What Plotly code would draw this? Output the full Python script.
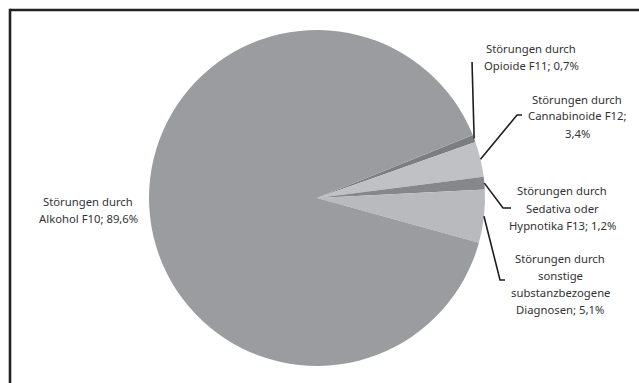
import math
import plotly.graph_objects as go

# Anteile der Diagnosegruppen (in %)
categories = [
    "Störungen durch Opioide F11",
    "Störungen durch Cannabinoide F12",
    "Störungen durch Sedativa oder Hypnotika F13",
    "Störungen durch sonstige substanzbezogene Diagnosen",
    "Störungen durch Alkohol F10",
]
values = [0.7, 3.4, 1.2, 5.1, 89.6]
value_labels = ["0,7%", "3,4%", "1,2%", "5,1%", "89,6%"]
label_lines = [
    ["Störungen durch", "Opioide F11; {}"],
    ["Störungen durch", "Cannabinoide F12;", "{}"],
    ["Störungen durch", "Sedativa oder", "Hypnotika F13; {}"],
    ["Störungen durch", "sonstige", "substanzbezogene", "Diagnosen; {}"],
    ["Störungen durch", "Alkohol F10; {}"],
]
colors = ["#7c7d81", "#c0c1c4", "#86878b", "#b9babd", "#9b9c9f"]

W, H = 639, 383
CX, CY, R = 317, 198, 168
ROTATION = 68
FONT = "Noto Sans, Open Sans, sans-serif"
FONT_SIZE = 11.3
LINE_GAP = 17
TEXT_COLOR = "#333333"


def paper(x, y):
    return x / W, 1 - y / H


# label centres (px) and leader elbows/ends per slice
label_pos = [(531, 57), (577, 116), (562, 208), (560, 284), (88, 210)]
leaders = [
    [(472, 62)],
    [(517, 115), (522, 115)],
    [(503, 208), (511, 208)],
    [(500, 280), (505, 280)],
    None,
]

fig = go.Figure(go.Pie(
    labels=categories,
    values=values,
    sort=False,
    direction="clockwise",
    rotation=ROTATION,
    marker=dict(colors=colors, line=dict(width=0)),
    textinfo="none",
    hoverinfo="label+percent",
    showlegend=False,
    domain=dict(x=[(CX - R) / W, (CX + R) / W],
                y=[(H - CY - R) / H, (H - CY + R) / H]),
))

shapes = []
annotations = []
total = sum(values)
cum = 0.0
for i, v in enumerate(values):
    mid = math.radians(ROTATION + 360 * (cum + v / 2) / total)
    cum += v
    ex, ey = CX + R * math.sin(mid), CY - R * math.cos(mid)
    if leaders[i]:
        pts = [(ex, ey)] + leaders[i]
        path = "M " + " L ".join("{:.4f},{:.4f}".format(*paper(px, py)) for px, py in pts)
        shapes.append(dict(type="path", xref="paper", yref="paper", path=path,
                           line=dict(color="#1e1e1e", width=1.6)))
    lines = [l.format(value_labels[i]) for l in label_lines[i]]
    n = len(lines)
    cx_lab, cy_lab = label_pos[i]
    for k, line in enumerate(lines):
        lx, ly = paper(cx_lab, cy_lab + (k - (n - 1) / 2) * LINE_GAP)
        annotations.append(dict(x=lx, y=ly, xref="paper", yref="paper", text=line,
                                showarrow=False, xanchor="center", yanchor="middle",
                                font=dict(family=FONT, size=FONT_SIZE, color=TEXT_COLOR)))

# Rahmen (oben und links)
shapes.append(dict(type="line", xref="paper", yref="paper",
                   x0=10 / W, y0=1 - 10 / H, x1=1.02, y1=1 - 10 / H,
                   line=dict(color="#222222", width=2.6)))
shapes.append(dict(type="line", xref="paper", yref="paper",
                   x0=10 / W, y0=1 - 8.7 / H, x1=10 / W, y1=-0.02,
                   line=dict(color="#222222", width=2.6)))

fig.update_layout(
    width=W, height=H,
    margin=dict(l=0, r=0, t=0, b=0),
    paper_bgcolor="white",
    plot_bgcolor="white",
    shapes=shapes,
    annotations=annotations,
)

fig.write_html("out.html")
